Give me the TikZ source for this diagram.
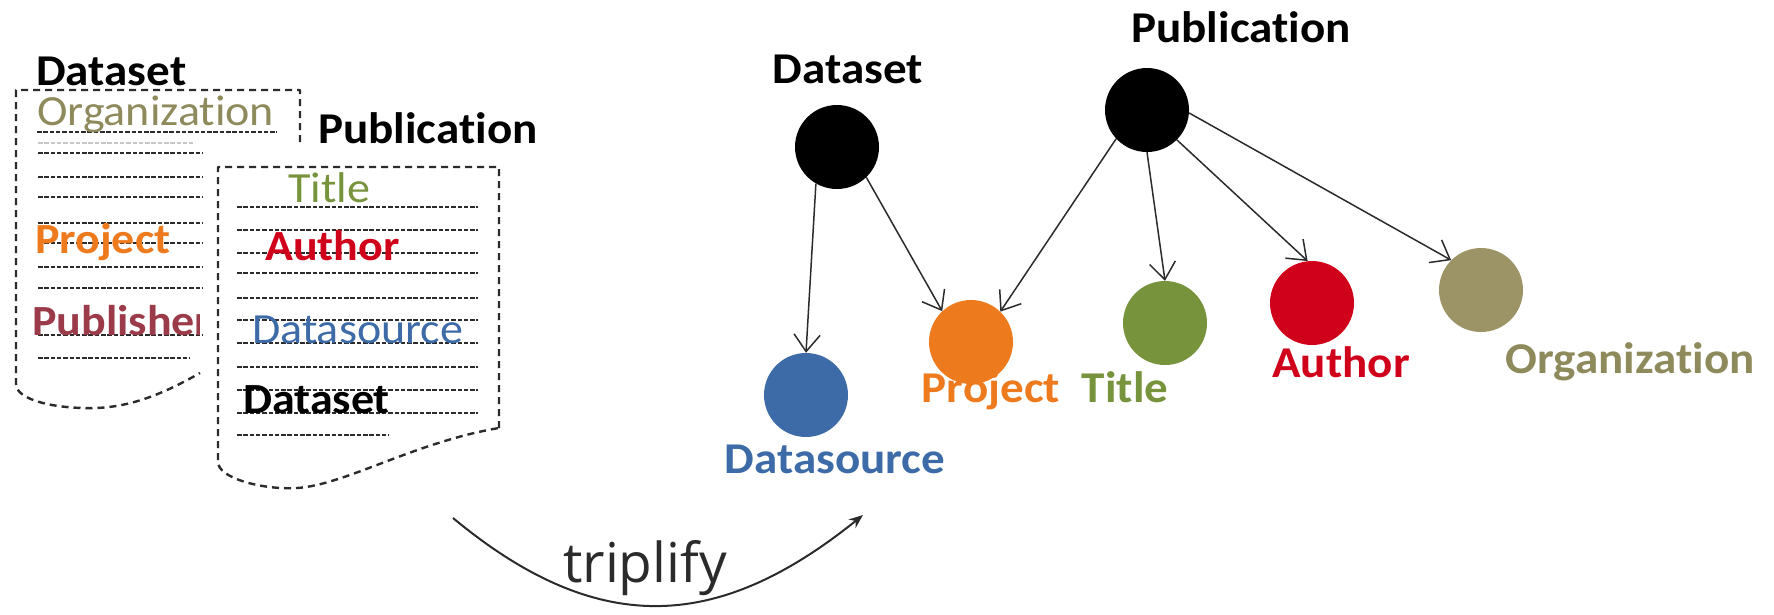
\documentclass[tikz,border=0pt]{standalone}
\usepackage{fontspec}
\setmainfont{Carlito}[FakeStretch=1.07, Ligatures=NoCommon]
\newfontfamily\arrowfont{Open Sans}
\usetikzlibrary{arrows.meta}

\definecolor{orgtext}{HTML}{8E8A5C}
\definecolor{orgfill}{HTML}{9C9466}
\definecolor{titlegreen}{HTML}{77933C}
\definecolor{authorred}{HTML}{D0021B}
\definecolor{projorange}{HTML}{EE7A1E}
\definecolor{srcblue}{HTML}{3D6BA8}
\definecolor{pubmaroon}{HTML}{9B3A48}
\definecolor{ink}{HTML}{2B2B2B}

\begin{document}
\begin{tikzpicture}[x=1pt,y=-1pt,
  docframe/.style={draw=ink, line width=2.4pt, dash pattern=on 7pt off 5pt, line join=round},
  docline/.style={draw=ink, line width=2pt, dash pattern=on 4.5pt off 1.8pt},
  doctxt/.style={anchor=base west, inner sep=0pt, font=\fontsize{43}{46}\selectfont},
  doctxtb/.style={doctxt, font=\fontsize{43}{46}\selectfont\bfseries},
  lbl/.style={anchor=base, inner sep=0pt, font=\fontsize{44}{48}\selectfont\bfseries},
  res/.style={circle, minimum size=84pt, inner sep=0pt, draw=none},
  link/.style={draw=ink, line width=1.5pt, -{Straight Barb[length=17pt,width=26pt,line width=1.5pt]}}
]
\useasboundingbox (0,0) rectangle (1774,614);

% ---------- dataset record (left sheet) ----------
\node[lbl, anchor=base west] (recDs) at (36,85) {Dataset};
\draw[docframe] (300,142) -- (300,90) -- (16,90) -- (16,384)
  .. controls (16,400) and (55,409) .. (95,408)
  .. controls (135,407) and (170,390) .. (200,373);
\draw[docline] (37,132) -- (277,132);
\draw[docline, draw=gray!45] (38,143) -- (193,143);
\foreach \y in {153,177,197,223,243,267,288,335}
  \draw[docline] (38,\y) -- (203,\y);
\draw[docline] (38,358) -- (190,358);
\node[doctxt, text=orgtext] (recOrg) at (37,125) {Organization};
\node[doctxtb, text=projorange] (recProj) at (35,253) {Project};
\begin{scope}
  \clip (0,295) rectangle (199,345);
  \node[doctxtb, text=pubmaroon] (recPubl) at (32,335) {Publisher};
\end{scope}

% ---------- publication record (right sheet) ----------
\node[lbl, anchor=base west] (recPub) at (318,143) {Publication};
\draw[docframe] (499,428) -- (499,167) -- (218,167) -- (218,462)
  .. controls (218,478) and (262,490) .. (297,488)
  .. controls (345,485) and (415,442) .. (499,428);
\foreach \y in {207,230,253,273,298,320,343,367,390,413}
  \draw[docline] (237,\y) -- (478,\y);
\draw[docline] (237,435) -- (389,435);
\node[doctxt, text=titlegreen] (recTitle) at (288,202) {Title};
\node[doctxtb, text=authorred] (recAuth) at (265,260) {Author};
\node[doctxt, text=srcblue] (recSrc) at (252,343) {Datasource};
\node[doctxtb, text=black] (recSet) at (243,413) {Dataset};

% ---------- triplify arrow ----------
\coordinate (tStart) at (453,518);
\coordinate (tEnd) at (863,515);
\draw[draw=ink, line width=2pt, -{Stealth[length=14pt,width=11pt]}]
  (tStart) .. controls (600,640) and (720,630) .. (tEnd);
\node[anchor=base west, inner sep=0pt, text=ink,
      font=\arrowfont\fontsize{55}{60}\selectfont] (tLabel) at (563,582) {triplify};

% ---------- resource graph ----------
\node[res, fill=black] (gDs) at (837,147) {};
\node[res, fill=black] (gPub) at (1147,110) {};
\node[res, fill=srcblue] (gSrc) at (806,395) {};
\node[res, fill=projorange] (gProj) at (971,342) {};
\node[res, fill=titlegreen] (gTitle) at (1165,323) {};
\node[res, fill=authorred] (gAuth) at (1312,303) {};
\node[res, fill=orgfill] (gOrg) at (1481,290) {};

\node[lbl] (lDs) at (848,83) {Dataset};
\node[lbl] (lPub) at (1241,42) {Publication};
\node[lbl, text=srcblue] (lSrc) at (835,473) {Datasource};
\node[lbl, text=projorange] (lProj) at (991,402) {Project};
\node[lbl, text=titlegreen] (lTitle) at (1125,402) {Title};
\node[lbl, text=authorred] (lAuth) at (1341,377) {Author};
\node[lbl, text=orgtext] (lOrg) at (1630,373) {Organization};

\draw[link] (gDs.-120) -- (gSrc.90);
\draw[link] (gDs.-46) -- (gProj.133);
\draw[link] (gPub.-137) -- (gProj.46);
\draw[link] (gPub.-90) -- (gTitle.90);
\draw[link] (gPub.-45) -- (gAuth.96);
\draw[link] (gPub.-4) -- (gOrg.135);
\end{tikzpicture}
\end{document}
